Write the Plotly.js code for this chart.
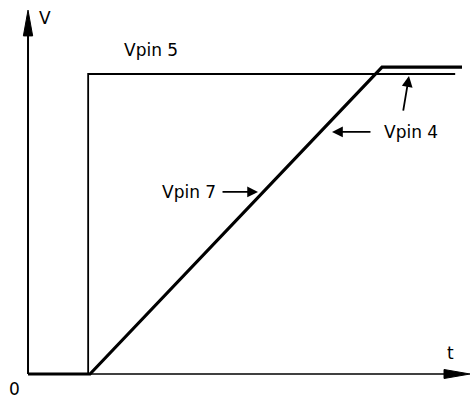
<!DOCTYPE html>
<html>
<head>
<meta charset="utf-8">
<script src="https://cdn.plot.ly/plotly-3.0.1.min.js"></script>
<style>html,body{margin:0;padding:0;background:#fff;}#chart{width:470px;height:401px;}</style>
</head>
<body>
<div id="chart"></div>
<script>
// Time points (t) and voltages (V)
var tPin7 = [0, 1.0, 5.71, 7.0];
var vPin7 = [0, 0, 10.23, 10.23];
var tPin5 = [0.97, 0.97, 6.89];
var vPin5 = [0, 10.0, 10.0];
var seriesNames = ["Vpin 7", "Vpin 5", "Vpin 4"];
var axisLabels = {y: "V", x: "t", origin: "0"};
var tMax = 7.13, vMax = 12.13;

var FONT = {family: "DejaVu Sans, Arial, sans-serif", size: 17, color: "#000"};

var traces = [
  {x: tPin7, y: vPin7, mode: "lines", line: {color: "#000", width: 3.2}, hoverinfo: "skip", name: seriesNames[0]},
  {x: tPin5, y: vPin5, mode: "lines", line: {color: "#000", width: 1.8}, hoverinfo: "skip", name: seriesNames[1]},
  // axes
  {x: [0, 0], y: [0, vMax - 0.5], mode: "lines", line: {color: "#000", width: 2}, hoverinfo: "skip"},
  {x: [0, tMax - 0.2], y: [0, 0], mode: "lines", line: {color: "#000", width: 1.6}, hoverinfo: "skip"}
];

var hw = 0.075, hv = 0.15;
var shapes = [
  {type: "path", xref: "x", yref: "y", fillcolor: "#000", line: {color: "#000", width: 1},
   path: "M " + (-hw) + " 11.27 L 0 " + vMax + " L " + hw + " 11.27 Z"},
  {type: "path", xref: "x", yref: "y", fillcolor: "#000", line: {color: "#000", width: 1},
   path: "M 6.71 " + (-hv) + " L " + tMax + " 0 L 6.71 " + hv + " Z"}
];

function label(text, x, y, xa) {
  return {text: text, x: x, y: y, xref: "x", yref: "y", showarrow: false,
          xanchor: xa || "left", yanchor: "middle", font: FONT};
}
function arrow(x, y, ax, ay) {
  return {text: "", x: x, y: y, ax: ax, ay: ay, xref: "x", yref: "y", axref: "x", ayref: "y",
          showarrow: true, arrowhead: 2, arrowsize: 1.2, arrowwidth: 1.8, arrowcolor: "#000"};
}

var annotations = [
  label(axisLabels.y, 0.145, 11.87),
  label(axisLabels.x, 6.81, 0.7, "center"),
  label(axisLabels.origin, -0.226, -0.5, "center"),
  label(seriesNames[1], 1.516, 10.8),
  label(seriesNames[0], 2.129, 6.07),
  label(seriesNames[2], 5.71, 8.07),
  arrow(3.71, 6.07, 3.113, 6.07),
  arrow(4.903, 8.07, 5.548, 8.07),
  arrow(6.145, 9.93, 6.048, 8.73)
];

var layout = {
  width: 470, height: 401,
  margin: {l: 0, r: 0, t: 0, b: 0, pad: 0},
  paper_bgcolor: "#fff", plot_bgcolor: "#fff",
  showlegend: false,
  xaxis: {range: [-0.452, 7.129], visible: false, fixedrange: true},
  yaxis: {range: [-0.9, 12.467], visible: false, fixedrange: true},
  shapes: shapes,
  annotations: annotations
};

Plotly.newPlot("chart", traces, layout, {displayModeBar: false, staticPlot: true});
</script>
</body>
</html>
